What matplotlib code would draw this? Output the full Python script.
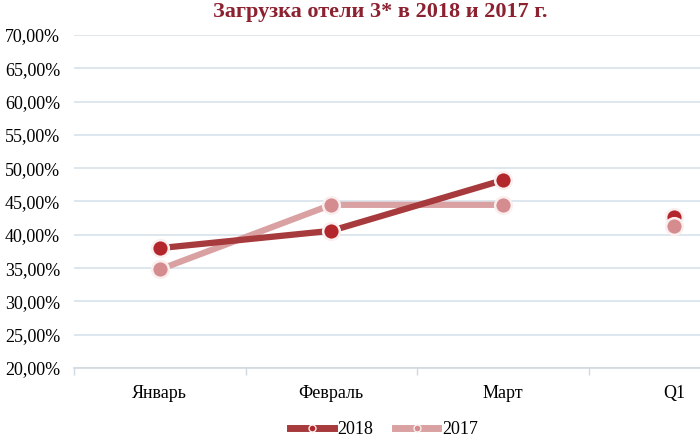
import numpy as np
import matplotlib
matplotlib.use('Agg')
import matplotlib.pyplot as plt
from matplotlib.ticker import FuncFormatter

# данные
months = ['Январь', 'Февраль', 'Март', 'Q1']
load_2018 = [38.0, 40.6, 48.2, 42.6]
load_2017 = [34.8, 44.5, 44.5, 41.3]

plt.rcParams['font.family'] = ['Liberation Serif', 'DejaVu Serif']

c18_line = '#a63a3c'
c18_mark = '#b3262b'
c17_line = '#d9a1a2'
c17_mark = '#d48c8e'

fig = plt.figure(figsize=(7.0, 4.38), dpi=100)
W, H = 700, 438
# область построения выходит за правый край (как в оригинале)
ax = fig.add_axes([74 / W, 1 - 368 / H, (4 * 171.5) / W, (368 - 35) / H])

x = np.arange(len(months))
# Q1 рисуется отдельно, без линии
ax.plot(x[:3], load_2018[:3], color=c18_line, lw=4.5, solid_capstyle='round', zorder=3)
ax.plot(x[:3], load_2017[:3], color=c17_line, lw=4.5, solid_capstyle='round', zorder=2)
ax.plot(x, load_2018, ls='none', marker='o', ms=12, mfc=c18_mark, mec='#fbeeee', mew=1.8, zorder=4)
ax.plot(x, load_2017, ls='none', marker='o', ms=12, mfc=c17_mark, mec='#fbeeee', mew=1.8, zorder=5)

ax.set_xlim(-0.5, 3.5)
ax.set_ylim(20, 70)
ax.set_yticks(np.arange(20, 71, 5))
ax.yaxis.set_major_formatter(FuncFormatter(lambda v, p: ('%.2f%%' % v).replace('.', ',')))
ax.grid(axis='y', color='#d8e3eb', lw=1.2)
ax.set_axisbelow(True)

ax.set_xticks(x)
ax.set_xticklabels(months)
ax.set_xticks(np.arange(-0.5, 3.6, 1), minor=True)
ax.tick_params(axis='x', which='major', length=0, pad=12, labelsize=13)
ax.tick_params(axis='x', which='minor', length=5, color='#d0d8e0', width=1)
ax.tick_params(axis='y', length=0, pad=10, labelsize=13)

for s in ['top', 'right', 'left']:
    ax.spines[s].set_visible(False)
ax.spines['bottom'].set_color('#d0d8e0')
ax.spines['bottom'].set_linewidth(1.2)

fig.text(380 / W, 1 - 12 / H, 'Загрузка отели 3* в 2018 и 2017 г.', ha='center', va='center',
         fontsize=16, fontweight='bold', color='#8c2130')

h1, = ax.plot([], [], color=c18_line, lw=5, marker='o', ms=5, mfc=c18_mark, mec='#fbeeee')
h2, = ax.plot([], [], color=c17_line, lw=5, marker='o', ms=5, mfc=c17_mark, mec='#fbeeee')
fig.legend([h1, h2], ['2018', '2017'], loc='center', bbox_to_anchor=(384 / W, 1 - 430 / H),
           ncol=2, frameon=False, fontsize=13, handlelength=2.4, handletextpad=0.2, columnspacing=1.2)

fig.savefig('out.png', dpi=100)
